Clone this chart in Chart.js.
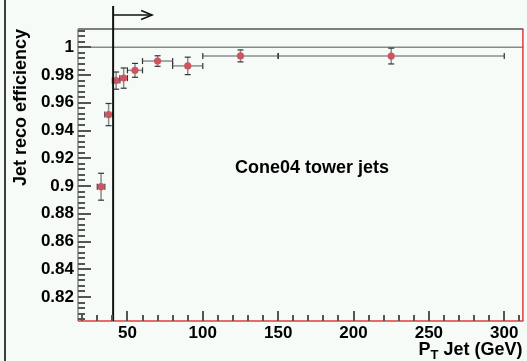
<!DOCTYPE html>
<html>
<head>
<meta charset="utf-8">
<script src="https://cdn.jsdelivr.net/npm/chart.js@4.4.1/dist/chart.umd.min.js"></script>
<style>
  html, body { margin: 0; padding: 0; background: #f6fbf8; }
  #wrap { width: 527px; height: 361px; }
</style>
</head>
<body>
<div id="wrap"><canvas id="effChart" width="527" height="361"></canvas></div>
<script>
// pT bins (GeV) and reconstruction efficiency per bin
const ptLow = [30, 35, 40, 45, 50, 60, 80, 100, 150];
const ptHigh = [35, 40, 45, 50, 60, 80, 100, 150, 300];
const ptCenter = [32.5, 37.5, 42.5, 47.5, 55, 70, 90, 125, 225];
const eff = [0.8995, 0.9515, 0.9760, 0.9778, 0.9834, 0.9901, 0.9866, 0.9938, 0.9937];
const effErr = [0.0097, 0.0080, 0.0062, 0.0073, 0.0050, 0.0038, 0.0063, 0.0043, 0.0057];

const xTicks = [50, 100, 150, 200, 250, 300];
const yTicks = [0.82, 0.84, 0.86, 0.88, 0.9, 0.92, 0.94, 0.96, 0.98, 1];
const ptCut = 40.5;

const xRange = [17.2, 312.7];
const yRange = [0.8027, 1.0132];

const fontFamily = "Liberation Sans, Arial, sans-serif";
const labelFont = { family: fontFamily, size: 17, weight: "bold" };

let line = (ctx, x1, y1, x2, y2) => {
  ctx.beginPath();
  ctx.moveTo(x1, y1);
  ctx.lineTo(x2, y2);
  ctx.stroke();
};

// inward tick marks: y every 0.004 (major 0.02), x every 10 GeV (major 50)
let rootTicks = {
  id: "rootTicks",
  afterDraw(chart) {
    const ctx = chart.ctx;
    const ys = chart.scales.y;
    const xs = chart.scales.x;
    const a = chart.chartArea;
    ctx.save();
    ctx.fillStyle = "#555555";
    for (let k = 201; k <= 253; k++) {
      const py = Math.round(ys.getPixelForValue(k * 0.004));
      ctx.fillRect(a.left, py - 1, k % 5 === 0 ? 13 : 7, 2);
    }
    for (let k = 2; k <= 31; k++) {
      const px = Math.round(xs.getPixelForValue(k * 10));
      const len = k % 5 === 0 ? 10 : 6;
      ctx.fillRect(px - 1, a.bottom - len, 2, len);
    }
    ctx.restore();
  },
};

// frame, error bars, cut line, labels -- ROOT style
let rootFrame = {
  id: "rootFrame",
  beforeDatasetsDraw(chart) {
    const ctx = chart.ctx;
    const { left, right } = chart.chartArea;
    const xs = chart.scales.x;
    const ys = chart.scales.y;
    ctx.save();

    // line at efficiency = 1
    ctx.strokeStyle = "#8a8a8a";
    ctx.lineWidth = 1.5;
    line(ctx, left, ys.getPixelForValue(1), right, ys.getPixelForValue(1));

    // error bars
    ptCenter.forEach((c, i) => {
      const x = xs.getPixelForValue(c);
      const y = ys.getPixelForValue(eff[i]);
      const xl = xs.getPixelForValue(ptLow[i]);
      const xh = xs.getPixelForValue(ptHigh[i]);
      const yl = ys.getPixelForValue(eff[i] - effErr[i]);
      const yh = ys.getPixelForValue(eff[i] + effErr[i]);
      ctx.strokeStyle = "#8c8c8c";
      ctx.lineWidth = 1.5;
      line(ctx, xl, y, xh, y);
      line(ctx, x, yl, x, yh);
      ctx.strokeStyle = "#333";
      ctx.lineWidth = 1.2;
      line(ctx, xl, y - 3, xl, y + 3);
      line(ctx, xh, y - 3, xh, y + 3);
      line(ctx, x - 3, yl, x + 3, yl);
      line(ctx, x - 3, yh, x + 3, yh);
    });
    ctx.restore();
  },
  afterDraw(chart) {
    const ctx = chart.ctx;
    const { left, right, top, bottom } = chart.chartArea;
    const xs = chart.scales.x;
    ctx.save();

    // frame
    ctx.lineWidth = 1.5;
    ctx.strokeStyle = "#555";
    line(ctx, left, top, right, top);
    ctx.strokeStyle = "#888";
    line(ctx, left, top, left, bottom);
    ctx.strokeStyle = "#e8383a";
    line(ctx, left, bottom, right, bottom);
    line(ctx, right - 0.5, top, right - 0.5, bottom);

    // pad edge
    ctx.strokeStyle = "#000";
    ctx.lineWidth = 1.5;
    line(ctx, 5, 0, 5, chart.height);

    // pT cut with arrow
    const xc = xs.getPixelForValue(ptCut);
    ctx.strokeStyle = "#111";
    ctx.lineWidth = 2;
    line(ctx, xc, 6, xc, bottom);
    ctx.lineWidth = 1.5;
    line(ctx, xc, 15, xc + 39, 15);
    ctx.beginPath();
    ctx.moveTo(xc + 28, 10.5);
    ctx.lineTo(xc + 39, 15);
    ctx.lineTo(xc + 28, 19.5);
    ctx.stroke();

    // label inside the pad
    ctx.fillStyle = "#000";
    ctx.font = "bold 18px " + fontFamily;
    ctx.textAlign = "center";
    ctx.textBaseline = "middle";
    ctx.fillText("Cone04 tower jets", 312, 168);

    // x axis title with subscript
    ctx.textAlign = "left";
    ctx.textBaseline = "alphabetic";
    ctx.font = "bold 18px " + fontFamily;
    const rest = " Jet (GeV)";
    const wRest = ctx.measureText(rest).width;
    const wP = ctx.measureText("P").width;
    ctx.font = "bold 13px " + fontFamily;
    const wT = ctx.measureText("T").width;
    const x0 = right - 1 - wRest - wT - wP;
    ctx.font = "bold 18px " + fontFamily;
    ctx.fillText("P", x0, 355);
    ctx.font = "bold 13px " + fontFamily;
    ctx.fillText("T", x0 + wP, 359);
    ctx.font = "bold 18px " + fontFamily;
    ctx.fillText(rest, x0 + wP + wT, 355);
    ctx.restore();
  },
};

new Chart("effChart", {
  type: "scatter",
  data: {
    datasets: [
      {
        label: "efficiency",
        data: ptCenter.map((c, i) => ({ x: c, y: eff[i] })),
        backgroundColor: "#cd5562",
        borderColor: "#cd5562",
        pointRadius: 3.6,
        pointHoverRadius: 3.6,
        borderWidth: 0,
      },
    ],
  },
  options: {
    responsive: false,
    animation: false,
    layout: { padding: { top: 29, right: -3, left: 0, bottom: 0 } },
    plugins: {
      legend: { display: false },
      tooltip: { enabled: false },
    },
    scales: {
      x: {
        type: "linear",
        min: xRange[0],
        max: xRange[1],
        grid: { display: false, drawTicks: false },
        border: { display: false },
        afterBuildTicks: (s) => {
          s.ticks = xTicks.map((v) => ({ value: v }));
        },
        afterFit: (s) => {
          s.height = 40;
        },
        ticks: { font: labelFont, color: "#000", padding: 2, maxRotation: 0 },
      },
      y: {
        type: "linear",
        min: yRange[0],
        max: yRange[1],
        grid: { display: false, drawTicks: false },
        border: { display: false },
        afterBuildTicks: (s) => {
          s.ticks = yTicks.map((v) => ({ value: v }));
        },
        afterFit: (s) => {
          s.width = 78;
        },
        ticks: {
          font: labelFont,
          color: "#000",
          padding: 4,
          callback: (v) => String(+v.toFixed(2)),
        },
        title: {
          display: true,
          text: "Jet reco efficiency",
          align: "end",
          color: "#000",
          font: { family: fontFamily, size: 18, weight: "bold" },
          padding: { top: 10, bottom: 0 },
        },
      },
    },
  },
  plugins: [rootFrame, rootTicks],
});
</script>
</body>
</html>
